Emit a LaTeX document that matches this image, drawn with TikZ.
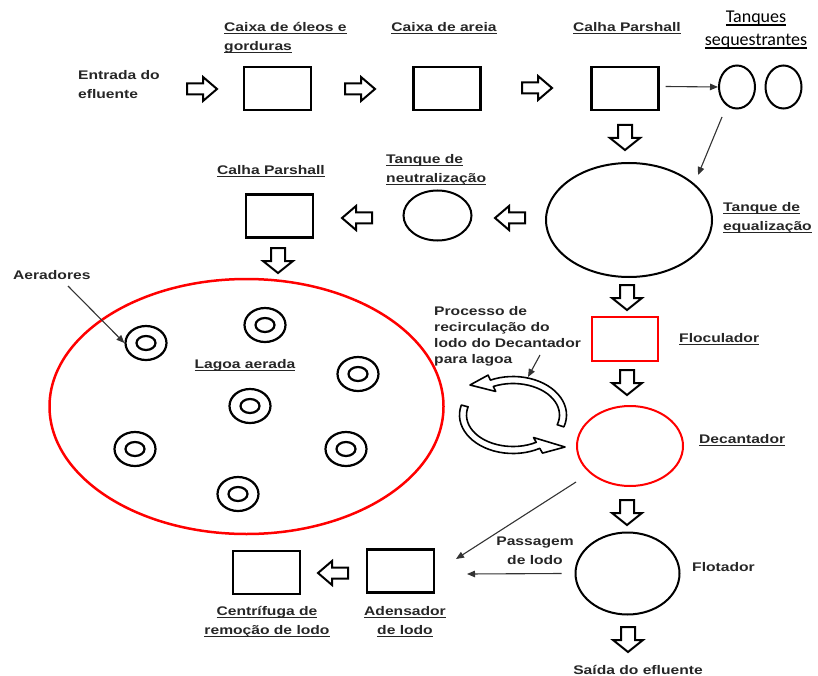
\documentclass[tikz,border=0pt]{standalone}
\usepackage{fontspec}
\setmainfont{Liberation Sans}[FakeStretch=1.25]
\newfontfamily\tqfont{Carlito}
\usetikzlibrary{arrows.meta,calc,shapes.geometric}
\newcommand\ulin[1]{\setbox0\hbox{#1}\rlap{\rule[-2.6pt]{\wd0}{1.1pt}}\box0}
\newcommand\ulthick[1]{\setbox0\hbox{#1}\rlap{\rule[-3.2pt]{\wd0}{1.6pt}}\box0}
\begin{document}
\begin{tikzpicture}[x=1pt,y=-1pt,
  lbl/.style={font=\fontsize{12.5}{19}\selectfont\bfseries, text=black!85, inner sep=0pt},
  boxn/.style={draw, line width=2.2pt, minimum width=67pt, minimum height=43pt, inner sep=0pt},
  redbox/.style={boxn, draw=red},
  ell/.style={draw, ellipse, line width=2pt, inner sep=0pt},
  harrow/.style={draw=black, fill=white, line width=2pt, line join=miter},
  thinarrow/.style={draw=black!80, line width=1.1pt, -{Triangle[length=8pt,width=6.5pt]}},
  recarrow/.style={draw=black, fill=white, line width=1.6pt, line join=round},
  hollowh/.pic={\path[harrow] (-15,-5.5) -- (1,-5.5) -- (1,-12) -- (15,0) -- (1,12) -- (1,5.5) -- (-15,5.5) -- cycle;},
  hollowv/.pic={\path[harrow] (-12.5,-7) -- (0.5,-7) -- (0.5,-15) -- (12.5,0) -- (0.5,15) -- (0.5,7) -- (-12.5,7) -- cycle;}
]
\useasboundingbox (0,0) rectangle (818,676);

% ---------- top row ----------
\node[lbl, anchor=west, align=left] (entrada) at (78,84.5) {Entrada do\\efluente};
\node[boxn] (b1) at (277.5,88.5) {};
\node[boxn] (b2) at (447,88.5) {};
\node[boxn] (b3) at (625,88.5) {};
\node[lbl, anchor=west, align=left] (lb1) at (224,38) {\ulin{Caixa de óleos e}\\\ulin{gorduras}};
\node[lbl] (lb2) at (444,28) {\ulin{Caixa de areia}};
\node[lbl] (lb3) at (627,28) {\ulin{Calha Parshall}};
\node[ell, minimum width=36pt, minimum height=43pt] (t1) at (737,87) {};
\node[ell, minimum width=36pt, minimum height=43pt] (t2) at (783.5,87) {};
\node[inner sep=0pt, align=center, font=\fontsize{18}{23}\selectfont\tqfont] (lt) at (756,30) {\ulthick{Tanques}\\\ulthick{sequestrantes}};

\pic at (202,89) {hollowh};
\pic at (360,89) {hollowh};
\pic at (537,88) {hollowh};
\pic[rotate=-90] at (625,137.5) {hollowv};

\draw[thinarrow] ($(b3.east)+(6,-2)$) -- (t1.west);

% ---------- second row ----------
\node[ell, minimum width=166pt, minimum height=114pt] (eq) at (629,220) {};
\node[lbl, anchor=west, align=left] (leq) at (723,217.5) {\ulin{Tanque de}\\\ulin{equalização}};
\node[ell, minimum width=68pt, minimum height=50pt] (neu) at (437.5,215.5) {};
\node[lbl, anchor=west, align=left] (lneu) at (386,169.5) {\ulin{Tanque de}\\\ulin{neutralização}};
\node[boxn] (b4) at (279.5,216) {};
\node[lbl] (lb4) at (271,171) {\ulin{Calha Parshall}};
\coordinate (ts) at (722,117);
\coordinate (te) at (698,175);
\draw[thinarrow] (ts) -- (te);

\pic[rotate=180] at (510,218) {hollowh};
\pic[rotate=180] at (357,218) {hollowh};
\pic[rotate=-90] at (278,260.5) {hollowv};
\pic[rotate=-90] at (627,297.5) {hollowv};

% ---------- lagoon ----------
\node[ell, draw=red, line width=2.5pt, minimum width=394pt, minimum height=255pt] (lagoa) at (246.5,406.5) {};
\node[lbl] (llag) at (245,365) {\ulin{Lagoa aerada}};
\foreach \n/\px/\py in {a1/146/343, a2/265/325, a3/358/374, a4/250/406, a5/135/449, a6/346/449, a7/238/494}{
  \node[ell, line width=2.2pt, minimum width=41pt, minimum height=34pt] (\n) at (\px,\py) {};
  \node[ell, line width=2.2pt, minimum width=19pt, minimum height=14pt] (\n i) at (\px,\py) {};
}
\node[lbl, anchor=west] (laer) at (13,275) {Aeradores};
\coordinate (as) at (68,286);
\draw[thinarrow] (as) -- (a1.west);

% ---------- floculador / decantador ----------
\node[redbox, minimum width=66pt, minimum height=44pt] (floc) at (625,339) {};
\node[lbl, anchor=west] (lfloc) at (679,339) {\ulin{Floculador}};
\pic[rotate=-90] at (627,382.5) {hollowv};
\node[ell, draw=red, minimum width=106pt, minimum height=80pt] (dec) at (630,446) {};
\node[lbl, anchor=west] (ldec) at (699,440) {\ulin{Decantador}};
\pic[rotate=-90] at (627,512.5) {hollowv};

% recirculation
\node[lbl, anchor=north west, align=left, font=\fontsize{12.5}{16}\selectfont\bfseries] (lproc) at (434,306) {Processo de\\recirculação do\\lodo do Decantador\\para lagoa};
\coordinate (ps) at (540,355);
\coordinate (pe) at (528,377);
\draw[thinarrow] (ps) -- (pe);
\coordinate (rc) at (513,415);
\path[recarrow] ($(rc)+(-18:53.5pt and 38.5pt)$) arc[start angle=-18,end angle=115,x radius=53.5pt,y radius=38.5pt]
  -- ($(rc)+(115:59pt and 44pt)$) -- ($(rc)+(-43pt,30pt)$) -- ($(rc)+(115:41pt and 26pt)$)
  -- ($(rc)+(115:46.5pt and 31.5pt)$) arc[start angle=115,end angle=-18,x radius=46.5pt,y radius=31.5pt] -- cycle;
\path[recarrow] ($(rc)+(165:53.5pt and 38.5pt)$) arc[start angle=165,end angle=300,x radius=53.5pt,y radius=38.5pt]
  -- ($(rc)+(300:59pt and 44pt)$) -- ($(rc)+(52pt,-32pt)$) -- ($(rc)+(300:41pt and 26pt)$)
  -- ($(rc)+(300:46.5pt and 31.5pt)$) arc[start angle=300,end angle=165,x radius=46.5pt,y radius=31.5pt] -- cycle;

% ---------- bottom ----------
\node[ell, minimum width=104pt, minimum height=82pt] (flot) at (627.5,573.5) {};
\node[lbl, anchor=west] (lflot) at (692,567) {Flotador};
\pic[rotate=-90] at (628,639.5) {hollowv};
\node[lbl] (lsai) at (638,670) {Saída do efluente};
\node[lbl, align=center] (lpas) at (535,551) {Passagem\\de lodo};
\node[boxn] (b5) at (400.5,571) {};
\node[lbl, align=center] (lb5) at (405,622) {\ulin{Adensador}\\\ulin{de lodo}};
\node[boxn] (b6) at (266.5,572.5) {};
\node[lbl, align=center] (lb6) at (267,622) {\ulin{Centrífuga de}\\\ulin{remoção de lodo}};
\pic[rotate=180] at (333,573) {hollowh};
\coordinate (ds) at (576,482);
\coordinate (de) at (456,559);
\draw[thinarrow] (ds) -- (de);
\coordinate (fe) at (467,574);
\draw[thinarrow] ($(flot.west)+(-13,0)$) -- (fe);
\end{tikzpicture}
\end{document}
